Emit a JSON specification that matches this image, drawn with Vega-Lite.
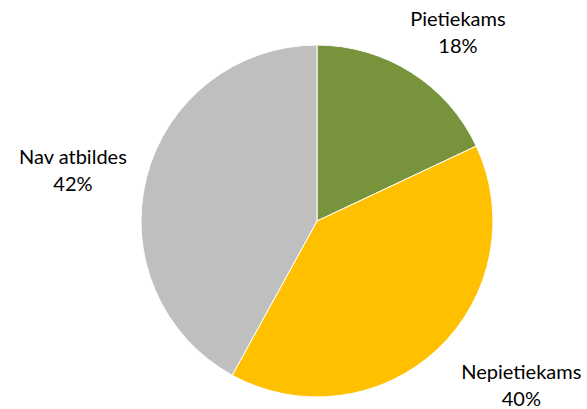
{
  "$schema": "https://vega.github.io/schema/vega-lite/v6.json",
  "width": 540,
  "height": 376,
  "autosize": "none",
  "padding": {"left": 47, "top": 33, "right": 0, "bottom": 0},
  "background": "white",
  "config": {"view": {"stroke": null}},
  "data": {"values": [
    {"cat": "Pietiekams", "value": 18, "ord": 1, "label": "Pietiekams\n18%"},
    {"cat": "Nepietiekams", "value": 40, "ord": 2, "label": "Nepietiekams\n40%"},
    {"cat": "Nav atbildes", "value": 42, "ord": 3, "label": "Nav atbildes\n42%"}
  ]},
  "encoding": {
    "theta": {"field": "value", "type": "quantitative", "stack": true},
    "order": {"field": "ord", "type": "quantitative"}
  },
  "layer": [
    {
      "mark": {"type": "arc", "outerRadius": 176, "stroke": "white", "strokeWidth": 1},
      "encoding": {
        "color": {"field": "cat", "type": "nominal", "legend": null,
          "scale": {"domain": ["Pietiekams", "Nepietiekams", "Nav atbildes"], "range": ["#77933C", "#FFC000", "#BFBFBF"]}}
      }
    },
    {
      "mark": {"type": "text", "radius": 222, "dx": 22, "dy": -13.5, "fontSize": 20, "font": "Lato", "lineBreak": "\n", "lineHeight": 27, "color": "#000000"},
      "encoding": {"text": {"condition": {"test": "datum.cat === 'Pietiekams'", "field": "label"}, "value": ""}}
    },
    {
      "mark": {"type": "text", "radius": 240, "dx": 40, "dy": -22.5, "fontSize": 20, "font": "Lato", "lineBreak": "\n", "lineHeight": 27, "color": "#000000"},
      "encoding": {"text": {"condition": {"test": "datum.cat === 'Nepietiekams'", "field": "label"}, "value": ""}}
    },
    {
      "mark": {"type": "text", "radius": 252, "dy": -0.5, "fontSize": 20, "font": "Lato", "lineBreak": "\n", "lineHeight": 27, "color": "#000000"},
      "encoding": {"text": {"condition": {"test": "datum.cat === 'Nav atbildes'", "field": "label"}, "value": ""}}
    }
  ]
}
